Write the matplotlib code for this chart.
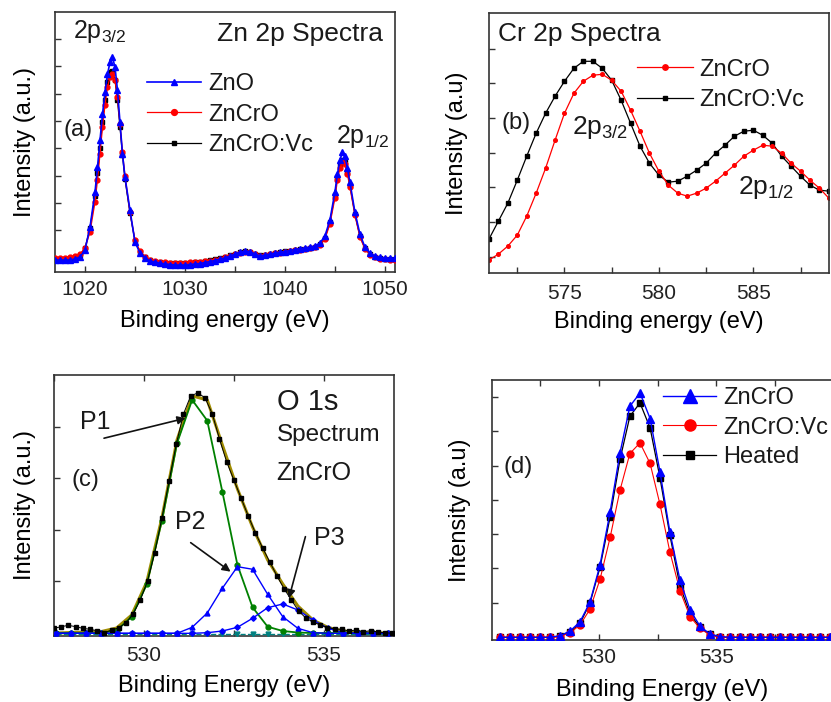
import numpy as np
import matplotlib
matplotlib.use('Agg')
import matplotlib.pyplot as plt
from matplotlib.ticker import MultipleLocator

plt.rcParams['font.family'] = ['Liberation Sans', 'DejaVu Sans']
plt.rcParams['mathtext.fontset'] = 'custom'
plt.rcParams['mathtext.rm'] = 'Liberation Sans'
plt.rcParams['text.color'] = '#1a1a1a'

# ---- (a) Zn 2p ----
zn_energy = [1017, 1017.5, 1018, 1018.5, 1019, 1019.5, 1020, 1020.5, 1021, 1021.25, 1021.5, 1021.75,
             1022, 1022.25, 1022.5, 1022.75, 1023, 1023.25, 1023.5, 1023.75, 1024, 1024.5, 1025, 1025.5,
             1026, 1026.5, 1027, 1027.5, 1028, 1028.5, 1029, 1029.5, 1030, 1030.5, 1031, 1031.5,
             1032, 1032.5, 1033, 1033.5, 1034, 1034.5, 1035, 1035.5, 1036, 1036.5, 1037, 1037.5,
             1038, 1038.5, 1039, 1039.5, 1040, 1040.5, 1041, 1041.5, 1042, 1042.5, 1043, 1043.5,
             1044, 1044.5, 1045, 1045.25, 1045.5, 1045.75, 1046, 1046.25, 1046.5, 1047, 1047.5, 1048,
             1048.5, 1049, 1049.5, 1050, 1050.5, 1051]
zn_zno = [12, 12, 12, 12, 13, 15, 22, 45, 80, 105, 132, 158,
          180, 198, 210, 215, 205, 182, 150, 118, 95, 62, 30, 19,
          14, 11, 10, 9, 8, 7.5, 7, 7, 7, 7.5, 8, 8.5,
          9.5, 10.5, 11.5, 13, 14, 16, 18, 20, 21, 20.5, 18, 16,
          17, 18, 19, 20, 20.5, 21.5, 22.5, 23.5, 24, 25, 26, 29,
          36, 52, 80, 98, 112, 120, 116, 104, 90, 60, 38, 25,
          19, 16, 15, 14, 14, 14]
zn_zncro = [14.5, 14.5, 14.5, 15, 16, 18, 24, 40, 70, 92, 118, 145,
            167, 185, 195, 198, 192, 175, 148, 120, 96, 60, 32, 21,
            15.5, 12.5, 11, 10.5, 10, 9.5, 9.5, 9.5, 9.5, 10, 10, 10.5,
            11, 11.5, 12.5, 13.5, 15, 16.5, 18, 19.5, 20.5, 20, 18, 16.5,
            17, 18, 19, 19.5, 20, 21, 22, 22.5, 23, 24, 25, 27,
            33, 48, 74, 92, 104, 110, 108, 98, 85, 57, 35, 23,
            17.5, 15, 13.5, 13, 12.5, 12.5]
zn_zncro_vc = [13.5, 13.5, 13.5, 14, 15, 17, 24, 44, 76, 99, 124, 150,
               172, 190, 200, 201, 192, 172, 145, 117, 93, 59, 31, 20,
               15, 12, 10.5, 10, 9.5, 9, 9, 9, 9, 9.5, 10, 10.5,
               11, 12, 13, 14, 15.5, 17, 18.5, 20, 21, 20.5, 18.5, 17,
               17.5, 18.5, 19.5, 20, 21, 21.5, 22.5, 23, 23.5, 24.5, 25.5, 28,
               34, 50, 77, 95, 107, 112, 110, 100, 87, 58, 36, 24,
               18, 15.5, 14, 13.5, 13, 13]

# ---- (b) Cr 2p ----
cr_energy = [571, 571.5, 572, 572.5, 573, 573.5, 574, 574.5, 575, 575.5, 576, 576.5, 577, 577.5,
             578, 578.5, 579, 579.5, 580, 580.5, 581, 581.5, 582, 582.5, 583, 583.5, 584, 584.5,
             585, 585.5, 586, 586.5, 587, 587.5, 588, 588.5, 589]
cr_zncro = [13, 19, 27, 38, 57, 80, 105, 133, 160, 180, 192, 198, 199, 193,
            182, 163, 142, 120, 102, 88, 80, 77, 80, 85, 92, 100, 108, 117,
            123, 128, 127, 120, 110, 102, 93, 85, 75]
cr_zncro_vc = [34, 52, 70, 93, 117, 140, 160, 177, 192, 205, 212, 212, 205, 193,
               173, 150, 127, 110, 98, 91, 92, 97, 103, 110, 120, 128, 137, 142,
               143, 138, 130, 117, 107, 97, 88, 83, 82]

# ---- (c) O 1s ZnCrO with fit ----
o_energy = [527.5, 527.7, 527.9, 528.1, 528.3, 528.5, 528.7, 528.9, 529.1, 529.3, 529.5, 529.7,
            529.9, 530.1, 530.3, 530.5, 530.7, 530.9, 531.1, 531.3, 531.5, 531.7, 531.9, 532.1,
            532.3, 532.5, 532.7, 532.9, 533.1, 533.3, 533.5, 533.7, 533.9, 534.1, 534.3, 534.5,
            534.7, 534.9, 535.1, 535.3, 535.5, 535.7, 535.9, 536.1, 536.3, 536.5, 536.7, 536.9]
o_data = [7.7, 9.3, 10.7, 9.3, 7.7, 6.7, 5.3, 3.3, 6, 8.3, 13, 22,
          36, 55, 83, 118, 155, 192, 222, 240, 243, 238, 222, 197,
          174, 156, 138, 120, 103, 88, 74, 60, 47, 36, 25, 18,
          14, 11, 8.5, 7, 6.7, 5, 6, 4.3, 5.3, 4, 3.3, 2.7]
fit_energy = [527.56, 527.98, 528.4, 528.82, 529.24, 529.66, 530.08, 530.5, 530.92, 531.34, 531.76, 532.18,
              532.6, 533.02, 533.44, 533.86, 534.28, 534.7, 535.12, 535.54, 535.96, 536.38, 536.8]
fit_p1 = [3, 3, 3, 3, 5.5, 19.3, 51.7, 115.3, 192.7, 236, 215.3, 144.3,
          71, 28.7, 9.3, 5, 3.5, 3, 3, 3, 3, 3, 3]
fit_p2 = [2.7, 2.7, 2.7, 2.7, 2.7, 2.7, 2.7, 2.7, 2.7, 8.7, 23, 47.7,
          69.3, 66.7, 41.7, 19.3, 7.7, 3.3, 2.7, 2.7, 2.7, 2.7, 2.7]
fit_p3 = [2.7, 2.7, 2.7, 2.7, 2.7, 2.7, 2.7, 2.7, 2.7, 2.7, 3.3, 5,
          8.7, 17.7, 28.3, 32, 26, 16, 7.7, 3.3, 2.7, 2.7, 2.7]
fit_base = [2.2, 2.2, 2.2, 2.2, 2.2, 2.2, 2.2, 2.2, 2.2, 2.2, 2.2, 2.2,
            2.2, 2.2, 2.2, 2.2, 2.2, 2.2, 2.2, 2.2, 2.2, 2.2, 2.2]
fit_sum = [3, 3.5, 4, 4.5, 8, 21, 54, 118, 196, 240, 236, 191,
           147, 109, 76, 52, 30, 16, 8.5, 5, 3.5, 3, 3]

# ---- (d) O 1s comparison ----
d_energy = [525.8, 526.22, 526.65, 527.08, 527.5, 527.92, 528.35, 528.78, 529.2, 529.62, 530.05, 530.48,
            530.9, 531.32, 531.75, 532.18, 532.6, 533.02, 533.45, 533.88, 534.3, 534.72, 535.15, 535.58,
            536.0, 536.42, 536.85, 537.28, 537.7, 538.12, 538.55, 538.98, 539.4, 539.82]
d_zncro = [2.7, 2.7, 2.7, 2.7, 2.7, 2.7, 4.3, 9, 18.3, 37.7, 75, 128.3,
           187.3, 234, 247.3, 221.7, 168.3, 108.3, 60, 30, 14, 6, 3.3, 2.7,
           2.7, 2.7, 2.7, 2.7, 2.7, 2.7, 2.7, 2.7, 2.7, 2.7]
d_zncro_vc = [2.7, 2.7, 2.7, 2.7, 2.7, 2.7, 3.3, 7.3, 15, 30.7, 60.7, 102.7,
              150, 186.7, 197.3, 176.7, 135.7, 88.3, 49.3, 23.3, 11.7, 5, 2.7, 2.7,
              2.7, 2.7, 2.7, 2.7, 2.7, 2.7, 2.7, 2.7, 2.7, 2.7]
d_heated = [2.7, 2.7, 2.7, 2.7, 2.7, 2.7, 4, 8.3, 16.7, 36.7, 72.7, 123.3,
            180.7, 224, 237.3, 212.3, 162.3, 105, 54, 26, 12.7, 5.7, 2.7, 2.7,
            2.7, 2.7, 2.7, 2.7, 2.7, 2.7, 2.7, 2.7, 2.7, 2.7]

BLUE = '#0000ff'
RED = '#ff0000'
GREEN = '#008000'
TEAL = '#008080'
OLIVE = '#a08c00'


def style_axes(ax, xmajor, xminor, yticks, top=False):
    for s in ax.spines.values():
        s.set_color('#333333')
        s.set_linewidth(1.2)
    ax.xaxis.set_major_locator(MultipleLocator(xmajor))
    ax.xaxis.set_minor_locator(MultipleLocator(xminor))
    ax.set_yticks(yticks)
    ax.tick_params(axis='both', which='both', direction='in', length=4, width=1,
                   color='#333333', top=top, labelsize=15, labelcolor='#222222')
    ax.tick_params(axis='y', labelleft=False)


fig = plt.figure(figsize=(8.31, 7.02), dpi=100)

# (a)
ax = fig.add_axes([0.0662, 0.6125, 0.409, 0.370])
ax.plot(zn_energy, zn_zncro_vc, '-s', color='black', lw=0.9, ms=3, label='ZnCrO:Vc', zorder=2)
ax.plot(zn_energy, zn_zncro, '-o', color=RED, lw=0.9, ms=3.5, label='ZnCrO', zorder=3)
ax.plot(zn_energy, zn_zno, '-^', color=BLUE, lw=1.2, ms=4, label='ZnO', zorder=4)
ax.set_xlim(1017, 1051)
ax.set_ylim(0, 260)
style_axes(ax, 10, 5, [42, 69.3, 96.6, 124, 151, 178.6, 206, 233])
ax.tick_params(axis='x', pad=6)
h, l = ax.get_legend_handles_labels()
ax.legend(h[::-1], l[::-1], loc='upper left', bbox_to_anchor=(0.27, 0.767), frameon=False,
          fontsize=17, handlelength=2.3, handletextpad=0.3, labelspacing=0.37,
          borderpad=0, borderaxespad=0, markerscale=1.2)
ax.text(0.965, 0.918, 'Zn 2p Spectra', transform=ax.transAxes, ha='right', va='center', fontsize=19)
ax.text(0.054, 0.925, r'2p$_{\mathrm{3/2}}$', transform=ax.transAxes, ha='left', va='center', fontsize=18)
ax.text(0.828, 0.52, r'2p$_{\mathrm{1/2}}$', transform=ax.transAxes, ha='left', va='center', fontsize=18)
ax.text(0.026, 0.546, '(a)', transform=ax.transAxes, ha='left', va='center', fontsize=17)
ax.set_xlabel('Binding energy (eV)', fontsize=17)
ax.set_ylabel('Intensity (a.u.)', fontsize=17)
ax.xaxis.set_label_coords(0.5, -0.145)
ax.yaxis.set_label_coords(-0.055, 0.5)

# (b)
ax = fig.add_axes([0.5884, 0.611, 0.409, 0.370])
ax.plot(cr_energy, cr_zncro_vc, '-s', color='black', lw=0.9, ms=2.4, label='ZnCrO:Vc')
ax.plot(cr_energy, cr_zncro, '-o', color=RED, lw=0.9, ms=2.6, label='ZnCrO')
ax.set_xlim(571, 589)
ax.set_ylim(0, 260)
style_axes(ax, 5, 2.5, [16.3, 51, 85.7, 120.4, 155.1, 189.8, 224.5])
ax.tick_params(axis='x', pad=8)
h, l = ax.get_legend_handles_labels()
ax.legend(h[::-1], l[::-1], loc='upper left', bbox_to_anchor=(0.436, 0.826), frameon=False,
          fontsize=17, handlelength=2.35, handletextpad=0.3, labelspacing=0.36,
          borderpad=0, borderaxespad=0, markerscale=1.5)
ax.text(0.026, 0.922, 'Cr 2p Spectra', transform=ax.transAxes, ha='left', va='center', fontsize=19)
ax.text(0.037, 0.576, '(b)', transform=ax.transAxes, ha='left', va='center', fontsize=17)
ax.text(0.243, 0.56, r'2p$_{\mathrm{3/2}}$', transform=ax.transAxes, ha='left', va='center', fontsize=19)
ax.text(0.733, 0.33, r'2p$_{\mathrm{1/2}}$', transform=ax.transAxes, ha='left', va='center', fontsize=19)
ax.set_xlabel('Binding energy (eV)', fontsize=17)
ax.set_ylabel('Intensity (a.u)', fontsize=17)
ax.xaxis.set_label_coords(0.5, -0.145)
ax.yaxis.set_label_coords(-0.062, 0.5)

# (c)
ax = fig.add_axes([0.065, 0.094, 0.409, 0.372])
ax.plot(fit_energy, fit_sum, '-', color=OLIVE, lw=2.2, zorder=2)
ax.plot(fit_energy, fit_base, '--v', color=TEAL, lw=1, ms=3.5, zorder=3)
ax.plot(fit_energy, fit_p1, '-o', color=GREEN, lw=1.3, ms=3.5, zorder=4)
ax.plot(fit_energy, fit_p2, '-^', color=BLUE, lw=1, ms=3.5, zorder=5)
ax.plot(fit_energy, fit_p3, '-D', color=BLUE, lw=1, ms=2.8, zorder=5)
ax.plot(o_energy, o_data, '-s', color='black', lw=0.7, ms=2.4, zorder=6)
ax.set_xlim(527.5, 536.95)
ax.set_ylim(0, 261)
style_axes(ax, 5, 2.5, [55, 106.3, 157.6, 208.9], top=True)
ax.tick_params(axis='x', pad=7)
arrow = dict(arrowstyle='-|>', color='#111111', lw=1.2, mutation_scale=12, shrinkA=0, shrinkB=0)
ax.annotate('', xy=(531.16, 217.7), xytext=(528.89, 197.7), arrowprops=arrow, zorder=7)
ax.annotate('', xy=(532.41, 64.3), xytext=(531.3, 93.3), arrowprops=arrow, zorder=7)
ax.annotate('', xy=(534.03, 37.7), xytext=(534.49, 99.3), arrowprops=arrow, zorder=7)
ax.text(528.66, 214.3, 'P1', ha='center', va='center', fontsize=18)
ax.text(531.3, 114.3, 'P2', ha='center', va='center', fontsize=18)
ax.text(535.16, 97.7, 'P3', ha='center', va='center', fontsize=18)
ax.text(0.655, 0.895, 'O 1s', transform=ax.transAxes, ha='left', va='center', fontsize=21)
ax.text(0.655, 0.77, 'Spectrum', transform=ax.transAxes, ha='left', va='center', fontsize=17.5)
ax.text(0.655, 0.626, 'ZnCrO', transform=ax.transAxes, ha='left', va='center', fontsize=18)
ax.text(0.052, 0.598, '(c)', transform=ax.transAxes, ha='left', va='center', fontsize=17)
ax.set_xlabel('Binding Energy (eV)', fontsize=17)
ax.set_ylabel('Intensity (a.u.)', fontsize=17)
ax.xaxis.set_label_coords(0.5, -0.15)
ax.yaxis.set_label_coords(-0.052, 0.5)

# (d)
ax = fig.add_axes([0.5924, 0.0883, 0.409, 0.370])
ax.plot(d_energy, d_heated, '-s', color='black', lw=0.9, ms=4, label='Heated', zorder=2)
ax.plot(d_energy, d_zncro_vc, '-o', color=RED, lw=0.8, ms=5, label='ZnCrO:Vc', zorder=3)
ax.plot(d_energy, d_zncro, '-^', color=BLUE, lw=1.0, ms=6, label='ZnCrO', zorder=4)
ax.set_xlim(525.47, 539.92)
ax.set_ylim(0, 260)
style_axes(ax, 5, 2.5, [37.3, 71.6, 105.9, 140.2, 174.5, 208.8, 243.1], top=True)
ax.tick_params(axis='x', pad=6)
h, l = ax.get_legend_handles_labels()
ax.legend(h[::-1], l[::-1], loc='upper left', bbox_to_anchor=(0.503, 0.975), frameon=False,
          fontsize=17, handlelength=2.25, handletextpad=0.3, labelspacing=0.33,
          borderpad=0, borderaxespad=0, markerscale=1.6)
ax.text(0.032, 0.667, '(d)', transform=ax.transAxes, ha='left', va='center', fontsize=17)
ax.set_xlabel('Binding Energy (eV)', fontsize=17)
ax.set_ylabel('Intensity (a.u)', fontsize=17)
ax.xaxis.set_label_coords(0.5, -0.15)
ax.yaxis.set_label_coords(-0.062, 0.5)

fig.savefig('out.png', dpi=100)
